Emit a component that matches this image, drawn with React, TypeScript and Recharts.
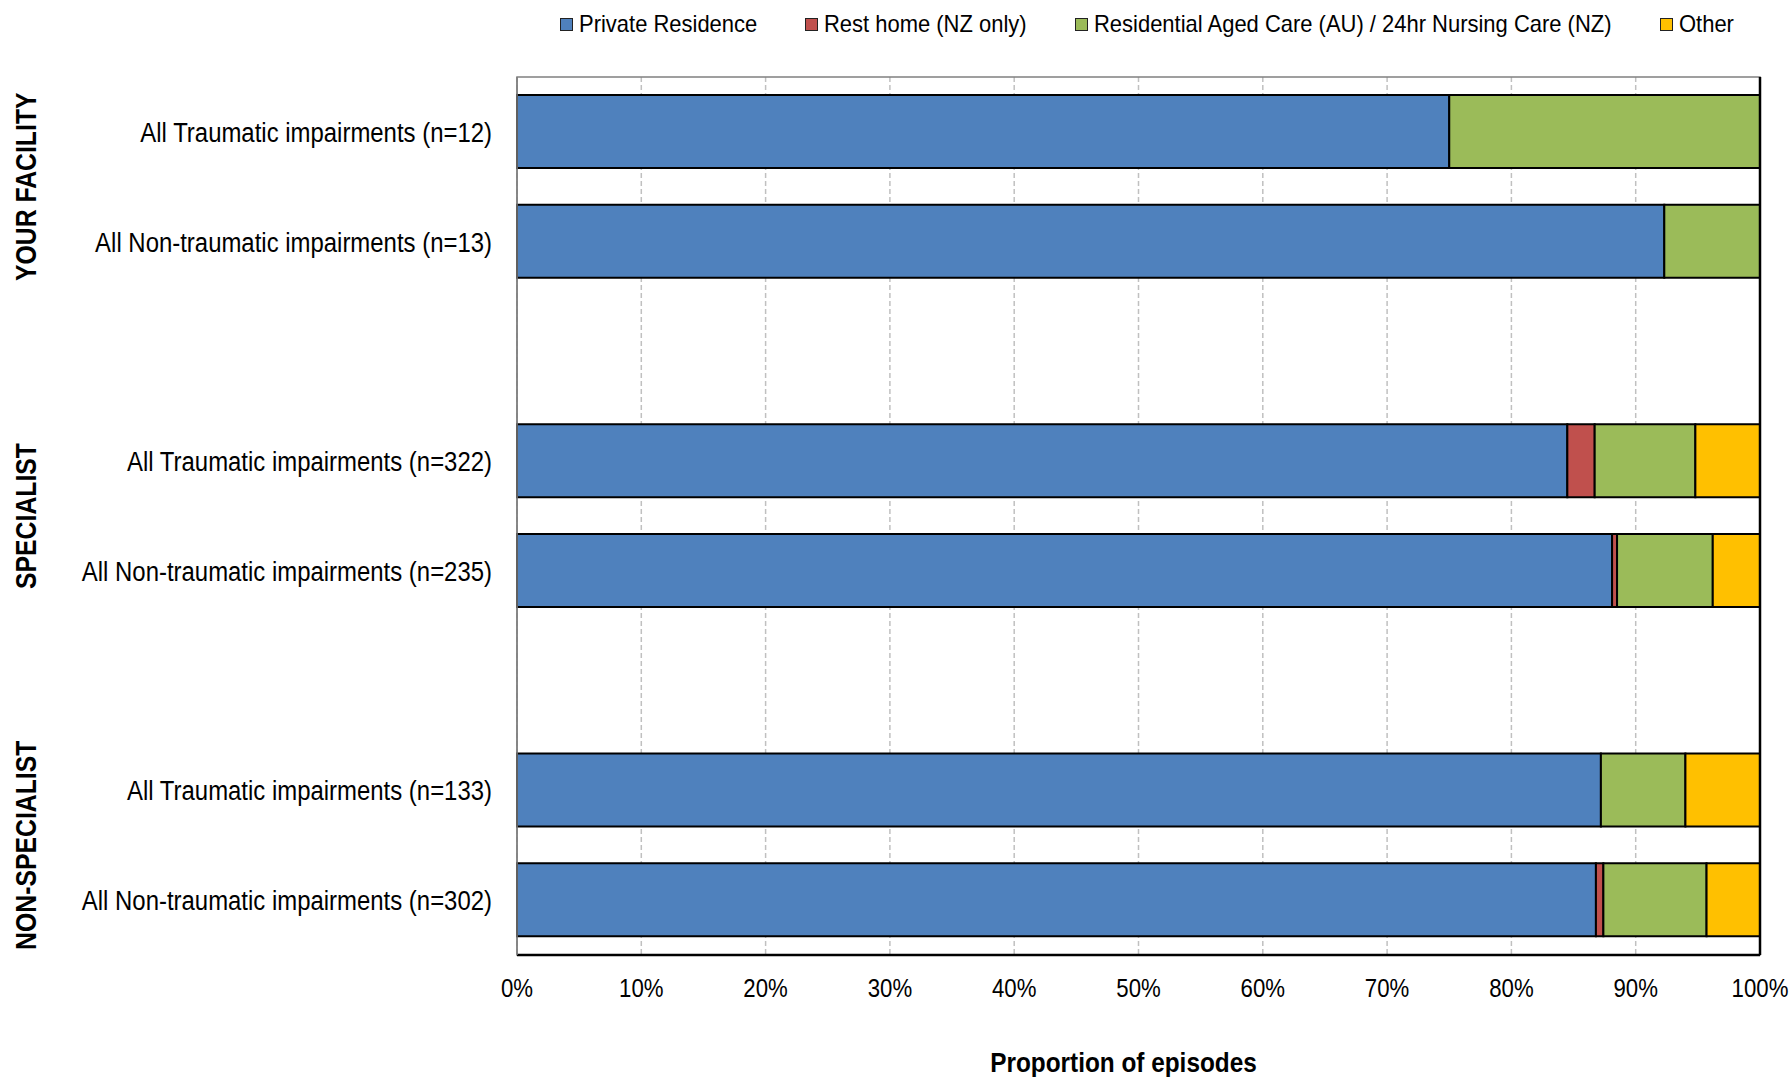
import React from "react";
import {
  BarChart,
  Bar,
  XAxis,
  YAxis,
  CartesianGrid,
  ReferenceArea,
  ReferenceLine,
  Legend,
  Label,
} from "recharts";

// rows, top to bottom; the gap ids are the spacer rows between groups
const rowIds = ["yf-t", "yf-n", "gap1", "sp-t", "sp-n", "gap2", "ns-t", "ns-n"];
const rowLabels = [
  "All Traumatic impairments (n=12)",
  "All Non-traumatic impairments (n=13)",
  "",
  "All Traumatic impairments (n=322)",
  "All Non-traumatic impairments (n=235)",
  "",
  "All Traumatic impairments (n=133)",
  "All Non-traumatic impairments (n=302)",
];
const groupLabels = ["YOUR FACILITY", "SPECIALIST", "NON-SPECIALIST"];
const groupFirstRow = ["yf-t", "sp-t", "ns-t"];

// proportion of episodes (%)
const privateResidence = [75.0, 92.3, null, 84.5, 88.1, null, 87.2, 86.8];
const restHome = [0, 0, null, 2.2, 0.4, null, 0, 0.6];
const residentialCare = [25.0, 7.7, null, 8.1, 7.7, null, 6.8, 8.3];
const other = [0, 0, null, 5.2, 3.8, null, 6.0, 4.3];

const seriesNames = [
  "Private Residence",
  "Rest home (NZ only)",
  "Residential Aged Care (AU) / 24hr Nursing Care (NZ)",
  "Other",
];
const seriesKeys = ["priv", "rest", "resid", "other"];
const seriesColors = ["#4F81BD", "#C0504D", "#9BBB59", "#FFC000"];

const xTicks = [0, 10, 20, 30, 40, 50, 60, 70, 80, 90, 100];
const xTitle = "Proportion of episodes";

const data = rowIds.map((id, i) => ({
  id,
  priv: privateResidence[i],
  rest: restHome[i],
  resid: residentialCare[i],
  other: other[i],
}));

const FONT = "'Liberation Sans', Arial, sans-serif";
// the original uses a condensed face; squeeze regular glyphs horizontally
const SQUEEZE = 0.855;

const W = 1792;
const H = 1077;
const MARGIN = { top: 77, right: 32, bottom: 5, left: 0 };
const X_AXIS_H = 117;
const BAND = (H - MARGIN.top - MARGIN.bottom - X_AXIS_H) / rowIds.length;

let canvasCtx: CanvasRenderingContext2D | null = null;
function measure(text: string, size: number, bold = false) {
  if (!canvasCtx) canvasCtx = document.createElement("canvas").getContext("2d");
  if (!canvasCtx) return text.length * size * 0.5;
  canvasCtx.font = `${bold ? "bold " : ""}${size}px "Liberation Sans"`;
  return canvasCtx.measureText(text).width;
}

function SqText({
  x,
  y,
  text,
  size,
  bold = false,
  anchor = "middle",
  dy = "0.36em",
  rotate = 0,
  sx = SQUEEZE,
}: any) {
  return (
    <text
      transform={`translate(${x} ${y}) rotate(${rotate}) scale(${sx} 1)`}
      textAnchor={anchor}
      dy={dy}
      fontFamily={FONT}
      fontWeight={bold ? "bold" : "normal"}
      fontSize={size}
      fill="#000"
    >
      {text}
    </text>
  );
}

function RowTick(props: any) {
  const { x, y, payload } = props;
  const idx = rowIds.indexOf(payload.value);
  const g = groupFirstRow.indexOf(payload.value);
  return (
    <g>
      <SqText x={x} y={y} text={rowLabels[idx]} size={28} anchor="end" />
      {g >= 0 && (
        <SqText
          x={26}
          y={y + BAND / 2}
          text={groupLabels[g]}
          size={29}
          bold
          rotate={-90}
          sx={0.855}
        />
      )}
    </g>
  );
}

function PctTick(props: any) {
  const { x, y, payload } = props;
  return <SqText x={x} y={y} text={`${payload.value}%`} size={26} dy="0.71em" />;
}

function AxisTitle(props: any) {
  const { viewBox } = props;
  const cx = viewBox.x + viewBox.width / 2 - 15;
  const by = viewBox.y + viewBox.height;
  return <SqText x={cx} y={by} text={xTitle} size={28} bold dy={0} sx={0.87} />;
}

function LegendContent() {
  const size = 24;
  const sx = 0.915;
  return (
    <div
      style={{
        display: "flex",
        alignItems: "center",
        fontFamily: FONT,
        fontSize: size,
        color: "#000",
        whiteSpace: "nowrap",
        lineHeight: "28px",
      }}
    >
      {seriesNames.map((name, i) => (
        <div
          key={name}
          style={{ display: "flex", alignItems: "center", marginRight: 48 }}
        >
          <span
            style={{
              display: "inline-block",
              width: 11,
              height: 11,
              background: seriesColors[i],
              border: "1.5px solid #222",
              marginRight: 6,
            }}
          />
          <span
            style={{
              display: "inline-block",
              width: measure(name, size) * sx,
              overflow: "visible",
            }}
          >
            <span
              style={{
                display: "inline-block",
                transform: `scaleX(${sx})`,
                transformOrigin: "0 50%",
              }}
            >
              {name}
            </span>
          </span>
        </div>
      ))}
    </div>
  );
}

export default function App() {
  return (
    <div
      style={{
        position: "absolute",
        left: 0,
        top: 0,
        width: W,
        height: H,
        background: "#fff",
      }}
    >
      <BarChart
        width={W}
        height={H}
        data={data}
        layout="vertical"
        margin={MARGIN}
        barSize={73}
      >
        <CartesianGrid
          horizontal={false}
          stroke="#C0C0C0"
          strokeWidth={1.5}
          strokeDasharray="5 3"
        />
        <XAxis
          type="number"
          domain={[0, 100]}
          ticks={xTicks}
          tickLine={false}
          tickSize={0}
          tickMargin={24}
          height={X_AXIS_H}
          axisLine={{ stroke: "#000", strokeWidth: 2.5 }}
          tick={<PctTick />}
          interval={0}
        >
          <Label position="insideBottom" content={<AxisTitle />} />
        </XAxis>
        <YAxis
          type="category"
          dataKey="id"
          width={517}
          tickLine={false}
          tickSize={0}
          tickMargin={25}
          axisLine={{ stroke: "#808080", strokeWidth: 1.5 }}
          tick={<RowTick />}
          interval={0}
        />
        <ReferenceArea
          x1={0}
          x2={100}
          fill="none"
          stroke="#808080"
          strokeWidth={1.5}
          ifOverflow="visible"
        />
        {seriesKeys.map((k, i) => (
          <Bar
            key={k}
            dataKey={k}
            name={seriesNames[i]}
            stackId="a"
            fill={seriesColors[i]}
            stroke="#000"
            strokeWidth={2}
            isAnimationActive={false}
          />
        ))}
        <ReferenceLine
          x={100}
          stroke="#000"
          strokeWidth={2.5}
          ifOverflow="visible"
        />
        <Legend
          layout="horizontal"
          verticalAlign="middle"
          align="center"
          content={<LegendContent />}
          wrapperStyle={{ top: 10, left: 560, width: "auto", height: "auto" }}
        />
      </BarChart>
    </div>
  );
}
